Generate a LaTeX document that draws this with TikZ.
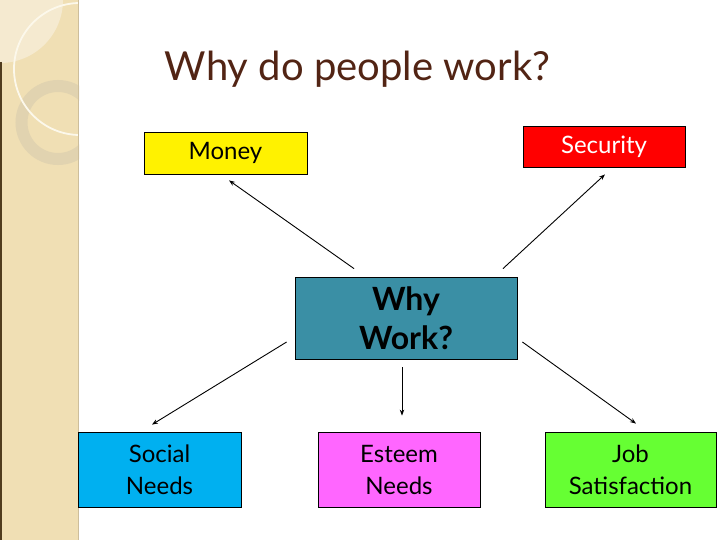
\documentclass[tikz,border=0pt]{standalone}
\usepackage{fontspec}
\setmainfont{Lato}
\usetikzlibrary{arrows.meta,calc}
\definecolor{stripbg}{RGB}{240,223,180}
\definecolor{striplight}{RGB}{245,234,208}
\definecolor{ringcol}{RGB}{225,211,176}
\definecolor{arccol}{RGB}{252,248,235}
\definecolor{edgedark}{RGB}{80,60,30}
\definecolor{edgelight}{RGB}{205,190,155}
\definecolor{titlecol}{RGB}{82,36,20}
\definecolor{tealbox}{RGB}{58,143,165}
\definecolor{socialcol}{RGB}{0,176,240}
\definecolor{esteemcol}{RGB}{255,102,255}
\definecolor{jobcol}{RGB}{102,255,51}
\begin{document}
\begin{tikzpicture}[x=1pt,y=-1pt,
  box/.style={draw=black, line width=0.8pt, inner sep=0pt, align=center,
    font=\fontsize{24}{32}\selectfont},
  arr/.style={line width=0.9pt, -{Stealth[length=6pt,width=4.5pt]}}]
\useasboundingbox (0,0) rectangle (720,540);
\fill[white] (0,0) rectangle (720,540);
% decorative strip
\begin{scope}
  \clip (0,0) rectangle (79,540);
  \fill[stripbg] (0,0) rectangle (79,540);
  \fill[striplight] (0,0) circle (63);
  \draw[ringcol, line width=12pt] (58,122.5) circle (36.5);
  \draw[arccol, line width=1.8pt] (80,69) circle (66);
\end{scope}
\draw[edgedark, line width=1.5pt] (0.75,62) -- (0.75,540);
\draw[edgelight, line width=1.5pt] (78.5,0) -- (78.5,540);
% title
\node[anchor=base, text=titlecol, font=\fontsize{40}{46}\selectfont] (title) at (357.5,81) {Why do people work?};
% boxes
\node[box, fill=yellow, minimum width=163pt, minimum height=42pt] (money) at (225.5,153) {Money};
\node[box, fill=red, text=white, minimum width=162pt, minimum height=41pt] (security) at (604,146.5) {Security};
\node[box, fill=tealbox, minimum width=222pt, minimum height=82pt, font=\fontsize{32}{39}\selectfont\bfseries] (why) at (406,318) {Why\\Work?};
\node[box, fill=socialcol, minimum width=163pt, minimum height=75pt] (social) at (159.5,469.5) {Social\\Needs};
\node[box, fill=esteemcol, minimum width=162pt, minimum height=75pt] (esteem) at (399,469.5) {Esteem\\Needs};
\node[box, fill=jobcol, minimum width=171pt, minimum height=75pt] (job) at (630.5,469.5) {Job\\Satisfaction};
% connectors
\draw[arr] ($(why.north)+(-52,-8)$) -- ($(money.south)+(3.5,6)$);
\draw[arr] ($(why.north)+(97,-8)$) -- ($(security.south)+(1,7)$);
\draw[arr] ($(why.west)+(-8,24)$) -- ($(social.north)+(-7.5,-7)$);
\draw[arr] ($(why.south)+(-4,8)$) -- ($(esteem.north)+(3,-16)$);
\draw[arr] ($(why.east)+(5,24)$) -- ($(job.north)+(5.5,-8)$);
\end{tikzpicture}
\end{document}
